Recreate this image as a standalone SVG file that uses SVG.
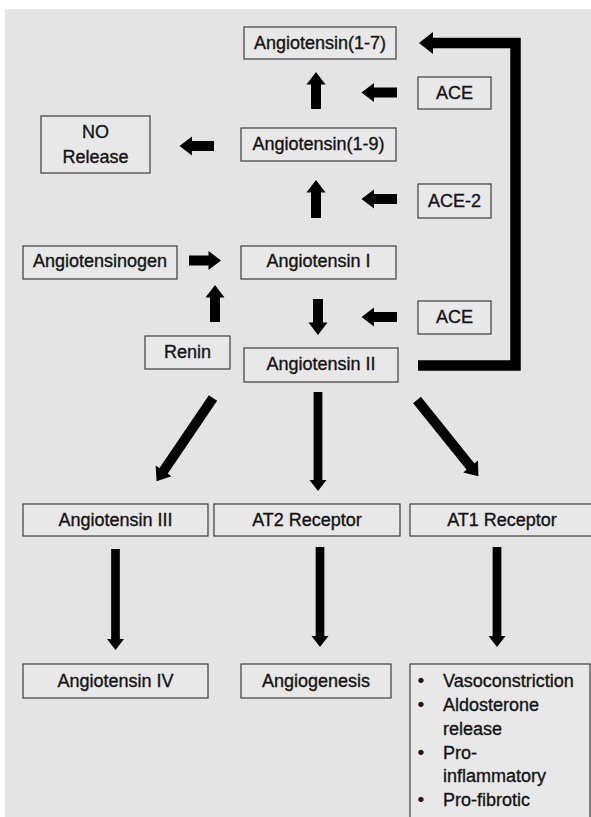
<svg xmlns="http://www.w3.org/2000/svg" width="591" height="817" viewBox="0 0 591 817">
<style>
.box{fill:#e8e8e8;stroke:#3c3c3c;stroke-width:1.2}
.t{font-family:"Liberation Sans",Arial,sans-serif;font-size:18px;fill:#141414;stroke:#141414;stroke-width:0.35;text-anchor:middle}
.l{font-family:"Liberation Sans",Arial,sans-serif;font-size:18px;fill:#141414;stroke:#141414;stroke-width:0.35}
.a{stroke:#000;stroke-width:10;fill:none}
.b{stroke:#000;stroke-width:8.7;fill:none}
.c{stroke:#000;stroke-width:10.5;fill:none;stroke-linejoin:miter}
</style>
<defs>
<marker id="hA" markerUnits="userSpaceOnUse" markerWidth="14" markerHeight="20" refX="1" refY="9.5" orient="auto" overflow="visible"><path d="M0,0 L12.5,9.5 L0,19 z" fill="#000"/></marker>
<marker id="hB" markerUnits="userSpaceOnUse" markerWidth="12" markerHeight="18" refX="1" refY="8.5" orient="auto" overflow="visible"><path d="M0,0 L11,8.5 L0,17 z" fill="#000"/></marker>
<marker id="hC" markerUnits="userSpaceOnUse" markerWidth="16" markerHeight="24" refX="1" refY="11" orient="auto" overflow="visible"><path d="M0,0 L14,11 L0,22 z" fill="#000"/></marker>
</defs>
<rect x="0" y="0" width="591" height="817" fill="#ffffff"/>
<rect x="5" y="9" width="586" height="808" fill="#e4e4e4"/>

<g id="connectors">
<line class="a" x1="214" y1="146" x2="191" y2="146" marker-end="url(#hA)"/>
<line class="a" x1="397" y1="92.5" x2="373" y2="92.5" marker-end="url(#hA)"/>
<line class="a" x1="316" y1="109" x2="316" y2="83.5" marker-end="url(#hA)"/>
<line class="a" x1="397" y1="199" x2="373" y2="199" marker-end="url(#hA)"/>
<line class="a" x1="316" y1="218" x2="316" y2="191.5" marker-end="url(#hA)"/>
<line class="a" x1="189" y1="260.5" x2="209.5" y2="260.5" marker-end="url(#hA)"/>
<line class="a" x1="215" y1="322" x2="215" y2="296.5" marker-end="url(#hA)"/>
<line class="a" x1="318" y1="299" x2="318" y2="323.5" marker-end="url(#hA)"/>
<line class="a" x1="397" y1="317" x2="373" y2="317" marker-end="url(#hA)"/>
<line class="a" x1="213" y1="398" x2="163" y2="471.7" marker-end="url(#hA)"/>
<line class="a" x1="417" y1="400" x2="471.2" y2="467.3" marker-end="url(#hA)"/>
<line class="b" x1="318" y1="392" x2="318" y2="481" marker-end="url(#hB)"/>
<line class="b" x1="115.5" y1="549" x2="115.5" y2="640" marker-end="url(#hB)"/>
<line class="b" x1="320" y1="547" x2="320" y2="637" marker-end="url(#hB)"/>
<line class="b" x1="497" y1="547" x2="497" y2="637" marker-end="url(#hB)"/>
<polyline class="c" points="418,365.5 515.5,365.5 515.5,43 432,43" marker-end="url(#hC)"/>
</g>

<g id="ang17"><rect class="box" x="244" y="27" width="152" height="32"/><text class="t" x="320" y="48.5">Angiotensin(1-7)</text></g>
<g id="norelease"><rect class="box" x="41" y="116" width="109" height="57"/><text class="t" x="95.5" y="137.5">NO</text><text class="t" x="95.5" y="162.5">Release</text></g>
<g id="ang19"><rect class="box" x="241" y="128" width="155" height="33"/><text class="t" x="318.5" y="150">Angiotensin(1-9)</text></g>
<g id="ace1"><rect class="box" x="418" y="77" width="73" height="32"/><text class="t" x="454.5" y="99">ACE</text></g>
<g id="ace2"><rect class="box" x="418" y="184" width="73" height="34"/><text class="t" x="454.5" y="207">ACE-2</text></g>
<g id="angiotensinogen"><rect class="box" x="23" y="246" width="154" height="33"/><text class="t" x="100" y="267">Angiotensinogen</text></g>
<g id="angI"><rect class="box" x="241" y="246" width="155" height="33"/><text class="t" x="318.5" y="267">Angiotensin I</text></g>
<g id="ace3"><rect class="box" x="418" y="301" width="73" height="33"/><text class="t" x="454.5" y="323">ACE</text></g>
<g id="renin"><rect class="box" x="145" y="336" width="85" height="33"/><text class="t" x="187.5" y="358">Renin</text></g>
<g id="angII"><rect class="box" x="244" y="348" width="154" height="34"/><text class="t" x="321" y="370">Angiotensin II</text></g>
<g id="angIII"><rect class="box" x="23" y="504" width="185" height="32"/><text class="t" x="115.5" y="525.5">Angiotensin III</text></g>
<g id="at2"><rect class="box" x="214" y="504" width="186" height="32"/><text class="t" x="307" y="525.5">AT2 Receptor</text></g>
<g id="at1"><rect class="box" x="410" y="504" width="184" height="32"/><text class="t" x="502" y="525.5">AT1 Receptor</text></g>
<g id="angIV"><rect class="box" x="23" y="664" width="185" height="34"/><text class="t" x="115.5" y="687">Angiotensin IV</text></g>
<g id="angiogenesis"><rect class="box" x="241" y="664" width="150" height="34"/><text class="t" x="316" y="687">Angiogenesis</text></g>
<g id="effects"><rect class="box" x="410" y="664" width="180" height="170"/>
<text class="t" x="421" y="687">•</text><text class="l" x="443" y="687">Vasoconstriction</text>
<text class="t" x="421" y="711">•</text><text class="l" x="443" y="711">Aldosterone</text>
<text class="l" x="443" y="735">release</text>
<text class="t" x="421" y="758.5">•</text><text class="l" x="443" y="758.5">Pro-</text>
<text class="l" x="443" y="782">inflammatory</text>
<text class="t" x="421" y="806">•</text><text class="l" x="443" y="806">Pro-fibrotic</text>
</g>
</svg>
